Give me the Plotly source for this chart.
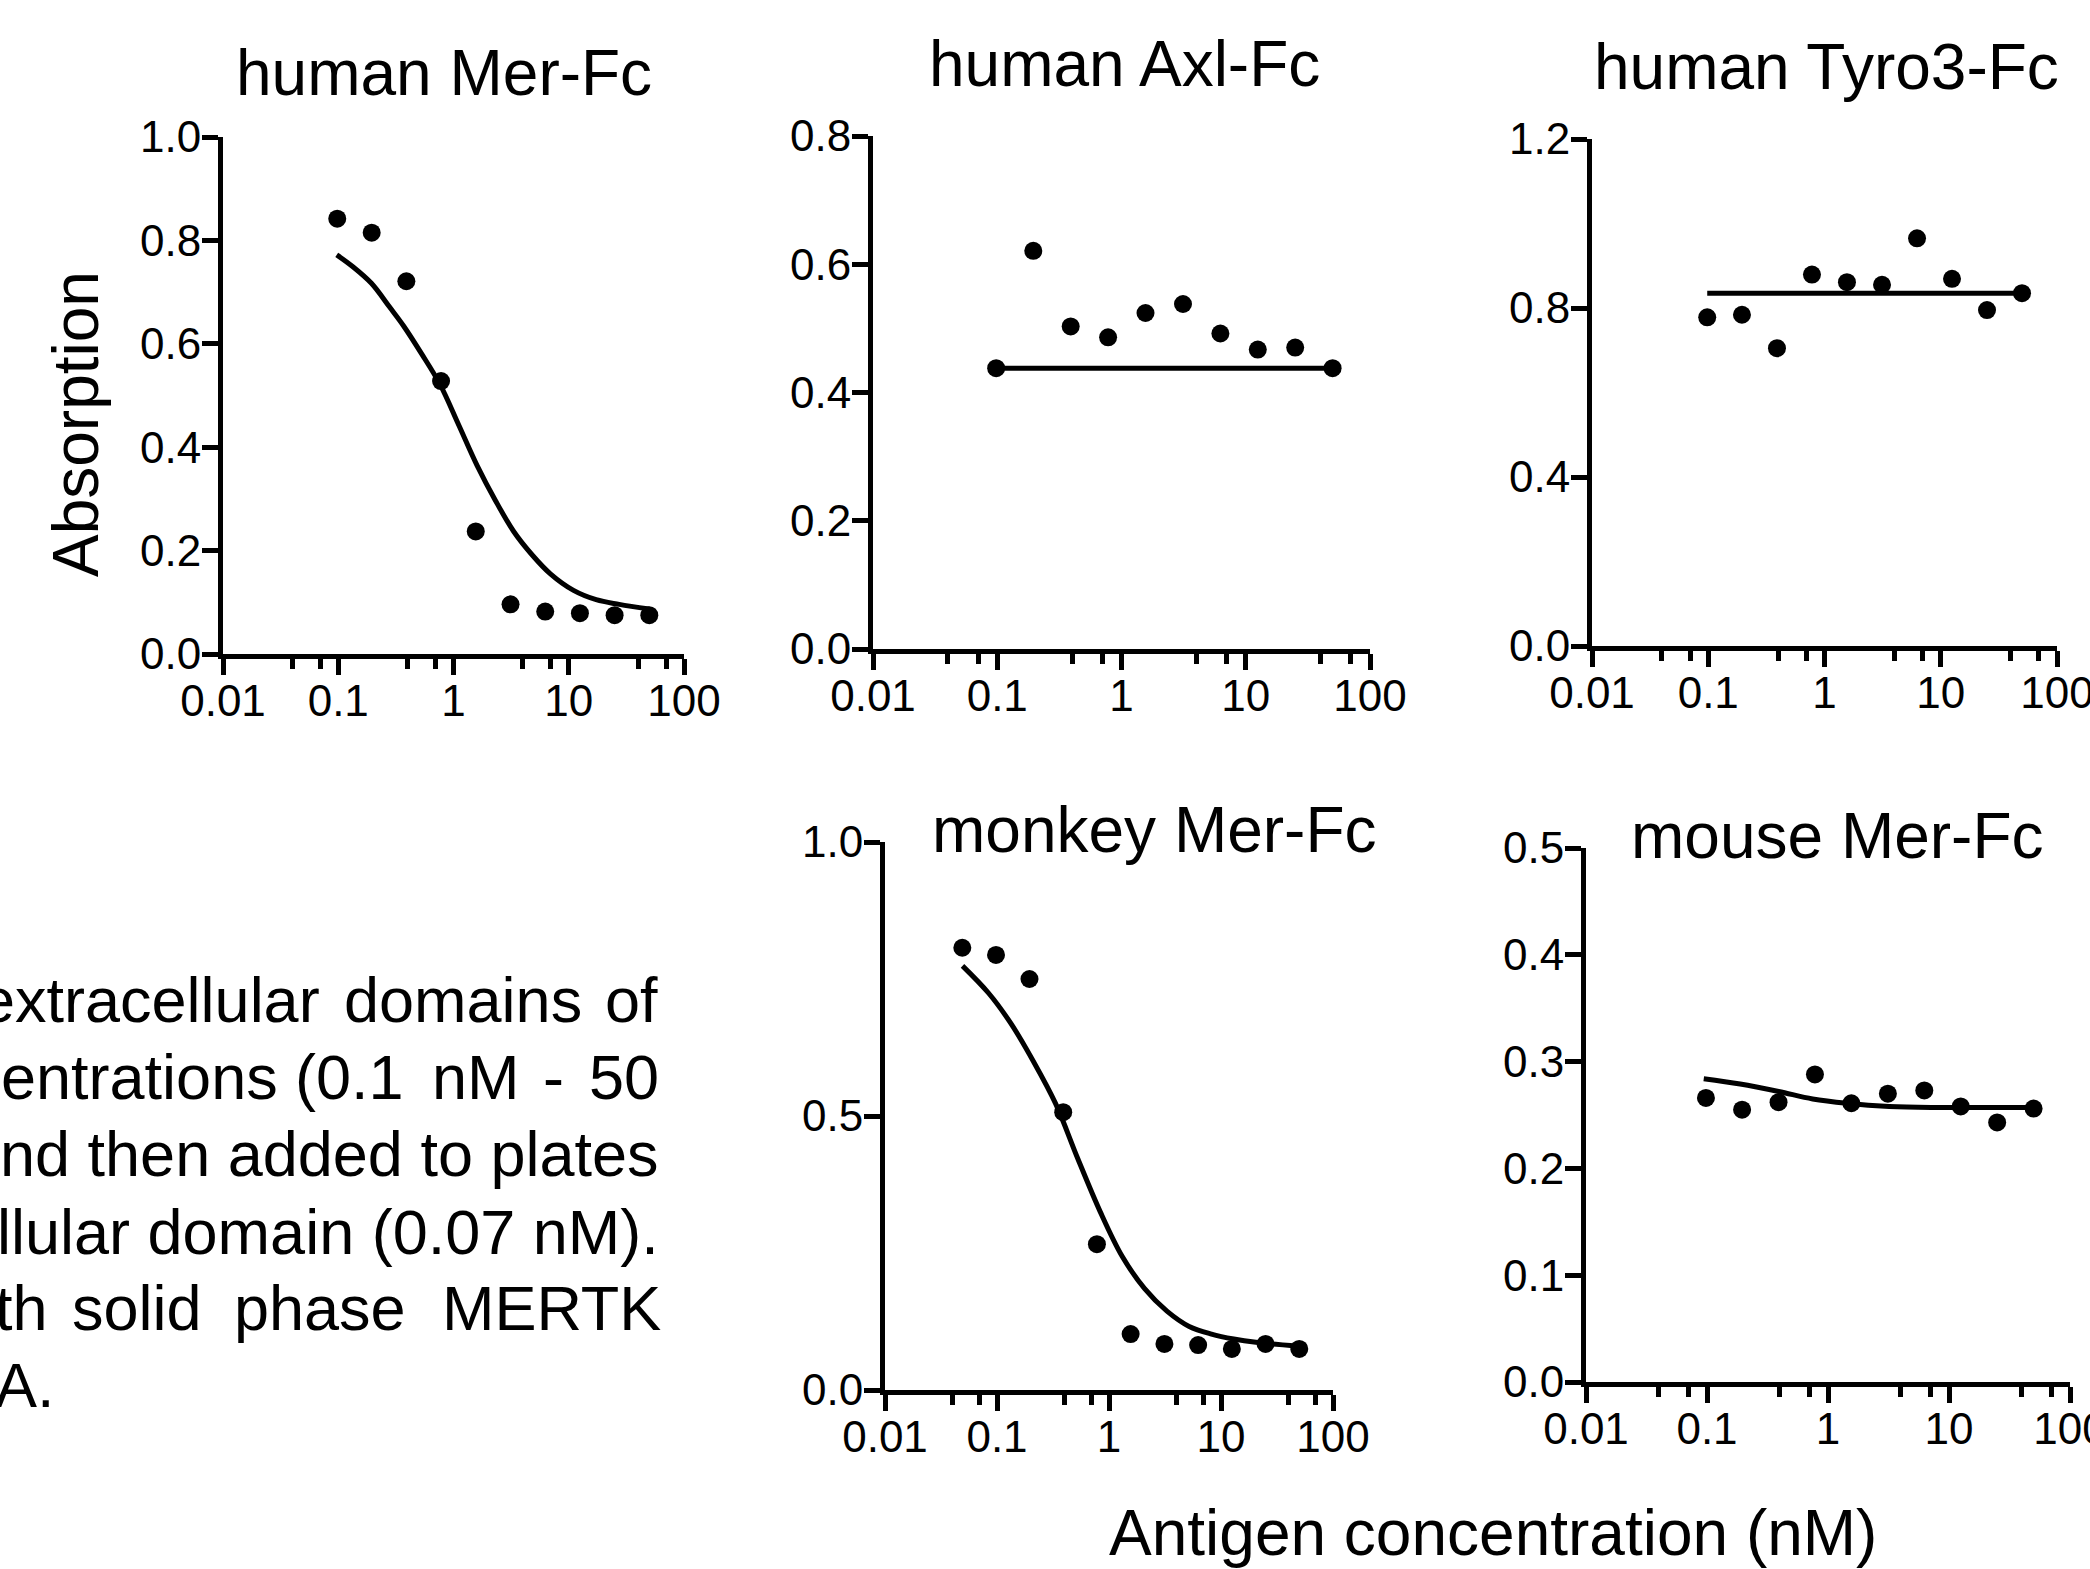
import plotly.graph_objects as go

W, H = 2090, 1569
FONT = "Liberation Sans, Arial, sans-serif"

# ---------------- data ----------------
conc10 = [0.098, 0.195, 0.39, 0.78, 1.56, 3.125, 6.25, 12.5, 25, 50]
conc11 = [0.049, 0.098, 0.195, 0.39, 0.78, 1.56, 3.125, 6.25, 12.5, 25, 50]

human_mer = [0.842, 0.815, 0.721, 0.528, 0.237, 0.096, 0.082, 0.079, 0.075, 0.075]
human_mer_fit_x = [0.097, 0.134, 0.194, 0.279, 0.368, 0.531, 0.766, 1.11, 1.60, 2.31, 3.33, 4.80, 6.93, 11.0, 17.3, 27.4, 49.8]
human_mer_fit_y = [0.772, 0.749, 0.717, 0.671, 0.635, 0.580, 0.521, 0.443, 0.365, 0.297, 0.237, 0.192, 0.155, 0.123, 0.105, 0.096, 0.087]

human_axl = [0.438, 0.621, 0.503, 0.486, 0.524, 0.538, 0.492, 0.467, 0.470, 0.438]
human_axl_fit_x = [0.098, 50]
human_axl_fit_y = [0.438, 0.438]

human_tyro3 = [0.778, 0.784, 0.705, 0.879, 0.861, 0.855, 0.965, 0.869, 0.795, 0.835]
human_tyro3_fit_x = [0.098, 50]
human_tyro3_fit_y = [0.835, 0.835]

monkey_mer = [0.807, 0.794, 0.750, 0.507, 0.266, 0.102, 0.084, 0.082, 0.075, 0.084, 0.075]
monkey_mer_fit_x = [0.0492, 0.0843, 0.133, 0.211, 0.333, 0.527, 0.832, 1.31, 2.08, 3.29, 5.20, 8.22, 13.0, 20.5, 49.4]
monkey_mer_fit_y = [0.774, 0.724, 0.669, 0.600, 0.523, 0.422, 0.326, 0.244, 0.185, 0.144, 0.116, 0.102, 0.093, 0.087, 0.080]

mouse_mer = [0.266, 0.255, 0.262, 0.288, 0.261, 0.270, 0.273, 0.258, 0.243, 0.256]
mouse_mer_fit_x = [0.094, 0.188, 0.391, 0.747, 1.43, 3.21, 7.23, 16.3, 49.8]
mouse_mer_fit_y = [0.284, 0.279, 0.272, 0.265, 0.261, 0.258, 0.257, 0.257, 0.257]

x_tickvals = [0.01, 0.1, 1, 10, 100]
x_ticktext = ["0.01", "0.1", "1", "10", "100"]
x_minor = [0.04, 0.07, 0.4, 0.7, 4, 7, 40, 70]

panels = [
    dict(title="human Mer-Fc", x=conc10, y=human_mer, fx=human_mer_fit_x, fy=human_mer_fit_y,
         yticks=[0, 0.2, 0.4, 0.6, 0.8, 1.0], ymax=1.0,
         box=(223, 684, 137, 654), tpos=(444, 73)),
    dict(title="human Axl-Fc", x=conc10, y=human_axl, fx=human_axl_fit_x, fy=human_axl_fit_y,
         yticks=[0, 0.2, 0.4, 0.6, 0.8], ymax=0.8,
         box=(873, 1370, 136, 649), tpos=(1124, 64)),
    dict(title="human Tyro3-Fc", x=conc10, y=human_tyro3, fx=human_tyro3_fit_x, fy=human_tyro3_fit_y,
         yticks=[0, 0.4, 0.8, 1.2], ymax=1.2,
         box=(1592, 2057, 139, 646), tpos=(1826, 67)),
    dict(title="monkey Mer-Fc", x=conc11, y=monkey_mer, fx=monkey_mer_fit_x, fy=monkey_mer_fit_y,
         yticks=[0, 0.5, 1.0], ymax=1.0,
         box=(885, 1333, 842, 1390), tpos=(1154, 830)),
    dict(title="mouse Mer-Fc", x=conc10, y=mouse_mer, fx=mouse_mer_fit_x, fy=mouse_mer_fit_y,
         yticks=[0, 0.1, 0.2, 0.3, 0.4, 0.5], ymax=0.5,
         box=(1586, 2070, 848, 1382), tpos=(1837, 836)),
]

fig = go.Figure()
layout = dict(width=W, height=H, margin=dict(l=0, r=0, t=0, b=0, autoexpand=False),
              paper_bgcolor="white", plot_bgcolor="white", showlegend=False,
              font=dict(family=FONT, color="black"))
annotations = []

def px2x(p):
    return p / W

def py2y(p):
    return 1 - p / H

LW = 5
TICKFONT = dict(size=44, family=FONT, color="black")
for i, p in enumerate(panels):
    n = i + 1
    xa = "xaxis" if n == 1 else f"xaxis{n}"
    ya = "yaxis" if n == 1 else f"yaxis{n}"
    xr = "x" if n == 1 else f"x{n}"
    yr = "y" if n == 1 else f"y{n}"
    x0, x1, yt, yb = p["box"]
    layout[xa] = dict(domain=[px2x(x0), px2x(x1)], anchor=yr, type="log", range=[-2, 2],
                      automargin=False, ticklabeloverflow="allow", ticklabelstandoff=-12,
                      showline=True, linecolor="black", linewidth=LW, mirror=False,
                      showgrid=False, zeroline=False,
                      ticks="outside", ticklen=16, tickwidth=LW, tickcolor="black",
                      tickvals=x_tickvals, ticktext=x_ticktext, tickfont=TICKFONT,
                      minor=dict(tickvals=x_minor, ticks="outside", ticklen=10, tickwidth=LW,
                                 tickcolor="black", showgrid=False))
    layout[ya] = dict(domain=[py2y(yb), py2y(yt)], anchor=xr, range=[0, p["ymax"]],
                      automargin=False, ticklabeloverflow="allow", ticklabelstandoff=-8,
                      showline=True, linecolor="black", linewidth=LW,
                      showgrid=False, zeroline=False,
                      ticks="outside", ticklen=16, tickwidth=LW, tickcolor="black",
                      tickvals=p["yticks"], tickformat=".1f", tickfont=TICKFONT)
    fig.add_trace(go.Scatter(x=p["fx"], y=p["fy"], mode="lines", xaxis=xr, yaxis=yr,
                             line=dict(color="black", width=5, shape="spline", smoothing=1.0),
                             cliponaxis=False, hoverinfo="skip"))
    fig.add_trace(go.Scatter(x=p["x"], y=p["y"], mode="markers", xaxis=xr, yaxis=yr,
                             marker=dict(color="black", size=18, line=dict(width=0)),
                             cliponaxis=False))
    annotations.append(dict(text=p["title"], x=px2x(p["tpos"][0]), y=py2y(p["tpos"][1]),
                            xref="paper", yref="paper", xanchor="center", yanchor="middle",
                            showarrow=False, font=dict(size=64, family=FONT, color="black")))

annotations.append(dict(text="Absorption", x=px2x(76), y=py2y(424), xref="paper", yref="paper",
                        xanchor="center", yanchor="middle", textangle=-90, showarrow=False,
                        font=dict(size=64, family=FONT, color="black")))
annotations.append(dict(text="Antigen concentration (nM)", x=px2x(1493), y=py2y(1533),
                        xref="paper", yref="paper", xanchor="center", yanchor="middle",
                        showarrow=False, font=dict(size=64, family=FONT, color="black")))

# body text fragment (justified lines reproduced word by word, right edges)
body_words = [
    (1000, [("extracellular", 322), ("domains", 584), ("of", 660)]),
    (1077, [("entrations", 280), ("(0.1", 406), ("nM", 522), ("-", 566), ("50", 661)]),
    (1154, [("nd then added to plates", 661)]),
    (1232, [("llular domain (0.07 nM).", 661)]),
    (1308, [("th", 50), ("solid", 204), ("phase", 408), ("MERTK", 663)]),
    (1385, [("A.", 57)]),
]
for ypix, words in body_words:
    for w, xr_ in words:
        annotations.append(dict(text=w, x=px2x(xr_), y=py2y(ypix), xref="paper", yref="paper",
                                xanchor="right", yanchor="middle", showarrow=False,
                                font=dict(size=63, family=FONT, color="black")))

layout["annotations"] = annotations
fig.update_layout(**layout)
fig.write_html("out.html",
               config={"displayModeBar": False},
               post_script="document.body.style.margin='0';document.body.style.padding='0';"
                           "document.body.style.overflow='hidden';"
                           "document.documentElement.style.overflow='hidden';")
